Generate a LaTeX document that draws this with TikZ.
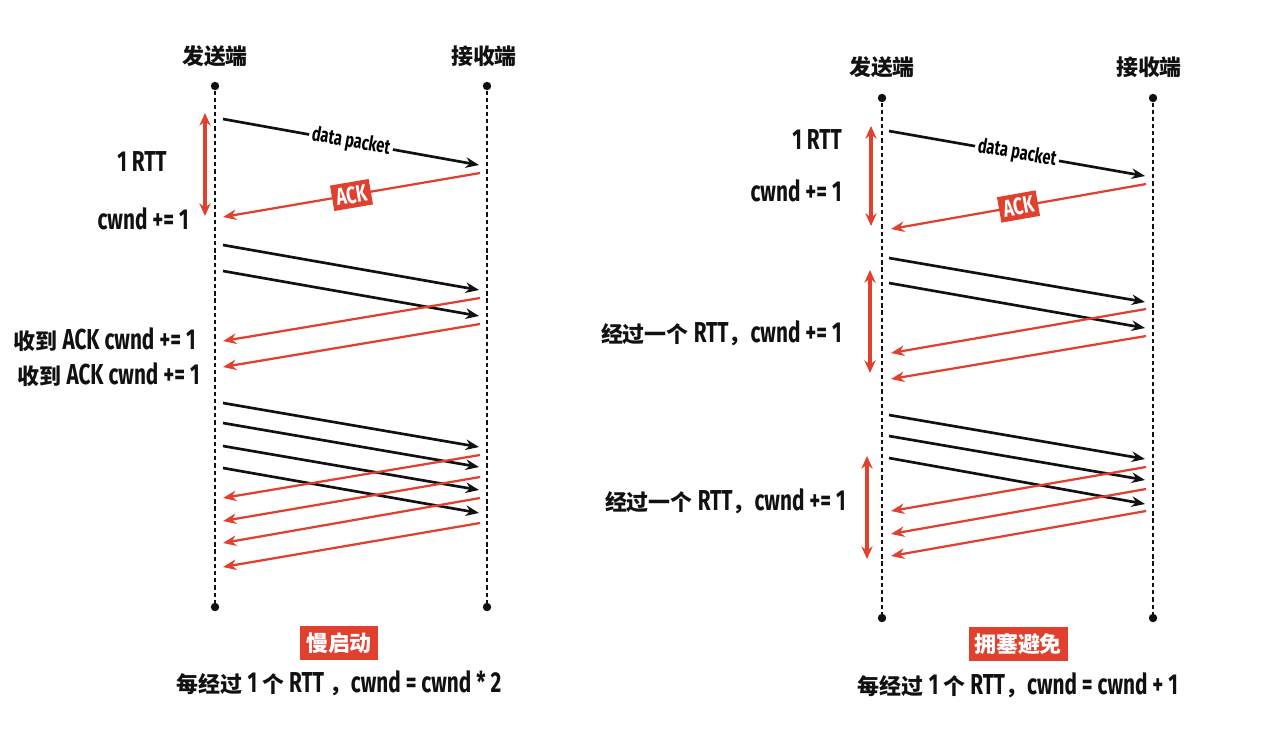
\documentclass[tikz,border=0pt]{standalone}
\usepackage{fontspec}
\setmainfont{Noto Sans CJK SC}
\newfontfamily\condfont[FakeStretch=0.72]{Fira Sans}
\usepackage{tikz}
\usetikzlibrary{arrows.meta,positioning,calc}
\definecolor{ink}{HTML}{111111}
\definecolor{accentred}{HTML}{E2402F}
\newcommand{\latn}[1]{{\condfont\bfseries\fontsize{20.5}{24}\selectfont #1}}
\tikzset{
  hostname/.style={font=\fontsize{15.6}{19}\selectfont\bfseries,text=ink},
  hostdot/.style={circle,fill=ink,inner sep=0pt,minimum size=6pt},
  lifeline/.style={draw=ink,line width=1.6pt,dash pattern=on 3pt off 2.1pt},
  dataarr/.style={-{Stealth[length=9.5pt,width=7.5pt]},draw=ink,line width=1.9pt},
  ackarr/.style={-{Stealth[length=9.5pt,width=7.5pt]},draw=accentred,line width=1.6pt},
  rttarr/.style={{Stealth[length=9pt,width=8pt]}-{Stealth[length=9pt,width=8pt]},
                 draw=accentred,line width=2.3pt},
  notetext/.style={font=\fontsize{15.6}{19}\selectfont\bfseries,text=ink,inner sep=0pt},
  pktlabel/.style={fill=white,inner sep=2pt,sloped,
                   font=\condfont\bfseries\fontsize{14.5}{16}\selectfont},
  acklabel/.style={fill=accentred,text=white,inner sep=3pt,sloped,
                   font=\condfont\bfseries\fontsize{17}{19}\selectfont},
  phasebox/.style={fill=accentred,text=white,inner sep=4pt,minimum height=24pt,
                   font=\fontsize{15.6}{19}\selectfont\bfseries}
}

\begin{document}
\begin{tikzpicture}[x=0.025cm,y=-0.025cm]
  \useasboundingbox (0,0) rectangle (1280,733);
  % slow start
  \node[hostname] (snd1) at (215,56) {发送端};
  \node[hostname] (rcv1) at (484,56) {接收端};
  \node[hostdot] (snd1top) at (215,86) {};
  \node[hostdot] (snd1bot) at (215,607) {};
  \node[hostdot] (rcv1top) at (487,86) {};
  \node[hostdot] (rcv1bot) at (487,607) {};
  \draw[lifeline] (snd1top) -- (snd1bot);
  \draw[lifeline] (rcv1top) -- (rcv1bot);

  \coordinate (pkt1a) at (223,119);
  \coordinate (pkt1b) at (479,165);
  \draw[dataarr] (pkt1a) -- node[pktlabel] {data packet} (pkt1b);
  \coordinate (ack1a) at (480,173);
  \coordinate (ack1b) at (223,217);
  \draw[ackarr] (ack1a) -- node[acklabel] {ACK} (ack1b);
  \coordinate (rtt1a) at (205,113);
  \coordinate (rtt1b) at (205,216);
  \draw[rttarr] (rtt1a) -- (rtt1b);
  \node[notetext] (rtt1txt) at (142,162) {\latn{1 RTT}};
  \node[notetext,anchor=east] (cwnd1txt) at (189,219) {\latn{cwnd += 1}};

  \foreach \i/\ya/\yb in {1/245/290,2/271/316,3/403/447,4/423/467,5/446/490,6/468/513} {
    \coordinate (ss\i) at (223,\ya);
    \coordinate (sr\i) at (479,\yb);
    \draw[dataarr] (ss\i) -- (sr\i);
  }
  \foreach \i/\ya/\yb in {1/298/341,2/324/367,3/455/498,4/477/521,5/498/543,6/523/567} {
    \coordinate (kr\i) at (480,\ya);
    \coordinate (ks\i) at (223,\yb);
    \draw[ackarr] (kr\i) -- (ks\i);
  }
  \node[notetext,anchor=east] (got1) at (196,340) {收到 \latn{ACK cwnd += 1}};
  \node[notetext,anchor=east] (got2) at (200,375) {收到 \latn{ACK cwnd += 1}};

  \node[phasebox] (slow) at (339,643) {慢启动};
  \node[notetext] (slowrule) at (339,683) {每经过 \latn{1} 个 \latn{RTT} ，\latn{cwnd = cwnd * 2}};

  % congestion avoidance
  \node[hostname] (snd2) at (882,67) {发送端};
  \node[hostname] (rcv2) at (1149,67) {接收端};
  \node[hostdot] (snd2top) at (882,98) {};
  \node[hostdot] (snd2bot) at (882,618) {};
  \node[hostdot] (rcv2top) at (1153,98) {};
  \node[hostdot] (rcv2bot) at (1153,618) {};
  \draw[lifeline] (snd2top) -- (snd2bot);
  \draw[lifeline] (rcv2top) -- (rcv2bot);

  \coordinate (pkt2a) at (889,131);
  \coordinate (pkt2b) at (1145,176);
  \draw[dataarr] (pkt2a) -- node[pktlabel] {data packet} (pkt2b);
  \coordinate (ack2a) at (1146,184);
  \coordinate (ack2b) at (891,229);
  \draw[ackarr] (ack2a) -- node[acklabel] {ACK} (ack2b);
  \coordinate (rtt2a) at (871,126);
  \coordinate (rtt2b) at (871,226);
  \draw[rttarr] (rtt2a) -- (rtt2b);
  \node[notetext,anchor=east] (rtt2txt) at (842,140) {\latn{1 RTT}};
  \node[notetext,anchor=east] (cwnd2txt) at (842,191) {\latn{cwnd += 1}};

  \foreach \i/\ya/\yb in {1/258/302,2/283/328,3/415/459,4/436/480,5/458/504} {
    \coordinate (ts\i) at (889,\ya);
    \coordinate (tr\i) at (1145,\yb);
    \draw[dataarr] (ts\i) -- (tr\i);
  }
  \foreach \i/\ya/\yb in {1/309/353,2/336/379,3/467/511,4/489/534,5/511/556} {
    \coordinate (wr\i) at (1146,\ya);
    \coordinate (ws\i) at (891,\yb);
    \draw[ackarr] (wr\i) -- (ws\i);
  }
  \coordinate (rtt3a) at (870,270);
  \coordinate (rtt3b) at (870,373);
  \draw[rttarr] (rtt3a) -- (rtt3b);
  \coordinate (rtt4a) at (867,456);
  \coordinate (rtt4b) at (867,559);
  \draw[rttarr] (rtt4a) -- (rtt4b);
  \node[notetext,anchor=east] (pass1) at (842,333) {经过一个 \latn{RTT}，\latn{cwnd += 1}};
  \node[notetext,anchor=east] (pass2) at (846,501) {经过一个 \latn{RTT}，\latn{cwnd += 1}};

  \node[phasebox] (avoid) at (1018,644) {拥塞避免};
  \node[notetext] (avoidrule) at (1018,685) {每经过 \latn{1} 个 \latn{RTT}，\latn{cwnd = cwnd + 1}};
\end{tikzpicture}
\end{document}
